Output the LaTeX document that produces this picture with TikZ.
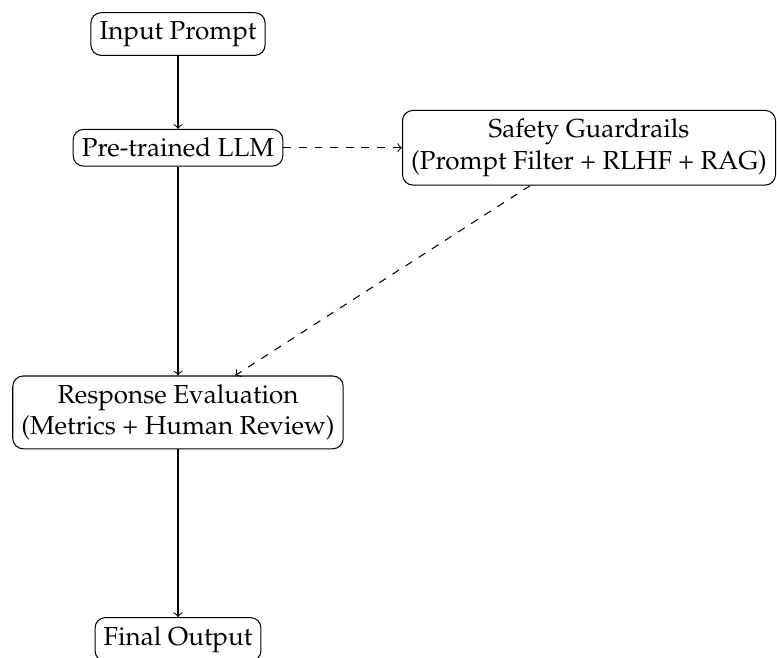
\documentclass[tikz,border=0pt]{standalone}
\usepackage[T1]{fontenc}
\usepackage{mathpazo}
\usetikzlibrary{positioning}

\tikzset{stage/.style={draw, rounded corners, align=center}}

\begin{document}
\begin{tikzpicture}
  \useasboundingbox (-2.406,0.46) rectangle (8.097,-8.421);

  \node (input) [stage] at (0,0) {Input Prompt};
  \node (llm) [stage] at (0,-1.537) {Pre-trained LLM};
  \node (guard) [stage] at (5.556,-1.537) {Safety Guardrails\\(Prompt Filter + RLHF + RAG)};
  \node (eval) [stage] at (0,-5.114) {Response Evaluation\\(Metrics + Human Review)};
  \node (final) [stage] at (0,-8.182) {Final Output};

  \draw [->] (input) -- (llm);
  \draw [->] (llm) -- (eval);
  \draw [->] (eval) -- (final);

  \draw [->, dashed] (llm) -- (guard);
  \draw [->, dashed] (guard) -- (eval);
\end{tikzpicture}
\end{document}
